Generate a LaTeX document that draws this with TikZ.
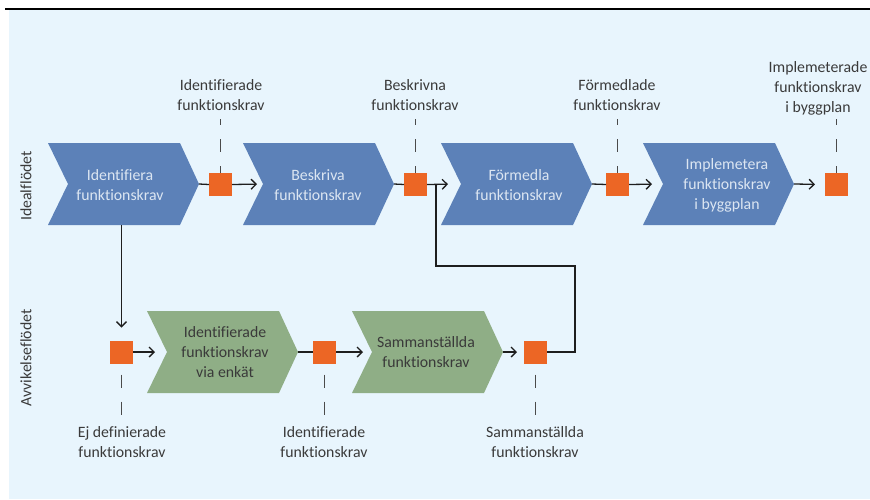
\documentclass[tikz,border=0pt]{standalone}
\usepackage{fontspec}
\setmainfont{Carlito}[Ligatures={NoCommon,NoContextual}]
\usetikzlibrary{arrows.meta,calc}
\definecolor{bgc}{HTML}{E8F5FD}
\definecolor{cblue}{HTML}{5C81B8}
\definecolor{cgreen}{HTML}{8FAE86}
\definecolor{corange}{HTML}{EC6625}
\definecolor{ltext}{HTML}{DCE6F2}
\definecolor{dtext}{HTML}{3A3A3A}
\definecolor{linec}{HTML}{1E1E1E}
\definecolor{dashc}{HTML}{4A4A4A}
\begin{document}
\begin{tikzpicture}[x=1pt,y=-1pt,
  font=\fontsize{15.8}{20}\selectfont,
  chev/.pic={
    \fill[pic actions] (0,0) -- (132,0) -- (151,41) -- (132,82) -- (0,82) -- (20,41) -- cycle;
    \coordinate (-tip) at (151,41);
    \coordinate (-notch) at (20,41);
  },
  sqbox/.style={fill=corange, minimum size=23pt, inner sep=0pt, outer sep=0pt},
  lbl/.style={align=center, text=dtext, inner sep=0pt},
  btxt/.style={align=center, text=ltext, inner sep=0pt},
  gtxt/.style={align=center, text=dtext, inner sep=0pt},
  conn/.style={line width=1.3pt, draw=linec},
  arr/.style={conn, -{Straight Barb[length=5pt,width=10pt]}},
  dashln/.style={draw=dashc, line width=1.3pt, dash pattern=on 13pt off 14pt}
]
\useasboundingbox (0,0) rectangle (870,499);
\fill[bgc] (9,10) rectangle (870,499);
\draw[line width=1.3pt, draw=black] (5,9) -- (870,9);

% side labels
\node[rotate=90, text=dtext, inner sep=0pt] (side1) at (26,186) {Idealflödet};
\node[rotate=90, text=dtext, inner sep=0pt] (side2) at (26,358) {Avvikelseflödet};

% top chevrons
\pic[fill=cblue] (c1) at (48,143) {chev};
\pic[fill=cblue] (c2) at (243,143) {chev};
\pic[fill=cblue] (c3) at (441,143) {chev};
\pic[fill=cblue] (c4) at (643,143) {chev};
\node[btxt] (t1) at (120,185) {Identifiera\\funktionskrav};
\node[btxt] (t2) at (318,185) {Beskriva\\funktionskrav};
\node[btxt] (t3) at (519,185) {Förmedla\\funktionskrav};
\node[btxt] (t4) at (727,185) {Implemetera\\funktionskrav\\i byggplan};

% bottom chevrons
\pic[fill=cgreen] (g1) at (147,311) {chev};
\pic[fill=cgreen] (g2) at (352,311) {chev};
\node[gtxt] (u1) at (225,352) {Identifierade\\funktionskrav\\via enkät};
\node[gtxt] (u2) at (426,352) {Sammanställda\\funktionskrav};

% squares
\node[sqbox] (s1) at (220.5,184.5) {};
\node[sqbox] (s2) at (415.5,184.5) {};
\node[sqbox] (s3) at (617.5,184.5) {};
\node[sqbox] (s4) at (836.5,184.5) {};
\node[sqbox] (q0) at (121.5,352) {};
\node[sqbox] (q1) at (324.5,352) {};
\node[sqbox] (q2) at (535.5,352) {};

% top labels
\node[lbl] (l1) at (221,95) {Identifierade\\funktionskrav};
\node[lbl] (l2) at (415,95) {Beskrivna\\funktionskrav};
\node[lbl] (l3) at (617,95) {Förmedlade\\funktionskrav};
\node[lbl] (l4) at (818,88) {Implemeterade\\funktionskrav\\i byggplan};
% bottom labels
\node[lbl] (b0) at (122,442) {Ej definierade\\funktionskrav};
\node[lbl] (b1) at (324,442) {Identifierade\\funktionskrav};
\node[lbl] (b2) at (535,442) {Sammanställda\\funktionskrav};

% dashed leaders
\foreach \s in {s1,s2,s3,s4}{
  \draw[dashln, dash phase=7pt] ($(\s.north)+(0,-54)$) -- (\s.north);
}
\foreach \s in {q0,q1,q2}{
  \draw[dashln] ($(\s.south)+(0,11)$) -- ($(\s.south)+(0,52)$);
}

% top flow
\draw[conn] (c1-tip) -- (s1.west);
\draw[arr, shorten >=6pt] (s1.east) -- (c2-notch);
\draw[conn] (c2-tip) -- (s2.west);
\draw[arr, shorten >=13pt] (s2.east) -- (c3-notch);
\draw[conn] (c3-tip) -- (s3.west);
\draw[arr, shorten >=11pt] (s3.east) -- (c4-notch);
\draw[arr, shorten >=10pt] (c4-tip) -- (s4.west);

% down to deviation flow
\draw[arr, shorten >=13pt] (q0.north |- 0,225) -- (q0.north);

% bottom flow
\draw[arr, shorten >=12pt] (q0.east) -- (g1-notch);
\draw[conn] (g1-tip) -- (q1.west);
\draw[arr, shorten >=9pt] (q1.east) -- (g2-notch);
\draw[arr, shorten >=7pt] (g2-tip) -- (q2.west);

% return path
\coordinate (r1) at (575,266);
\coordinate (r2) at (436,184.5);
\draw[conn] (q2.east) -| (r1) -| (r2);
\end{tikzpicture}
\end{document}
